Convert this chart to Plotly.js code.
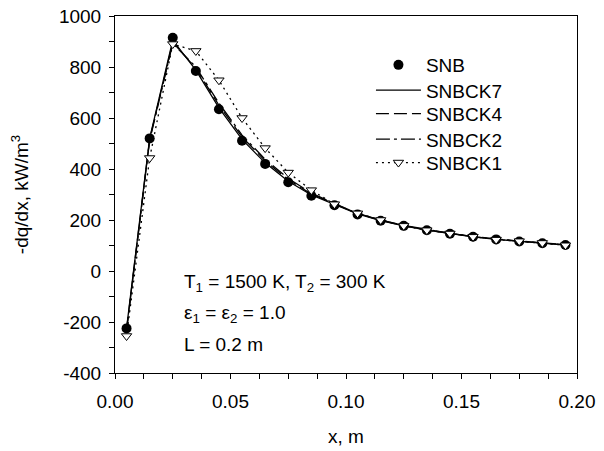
<!DOCTYPE html>
<html>
<head>
<meta charset="utf-8">
<script src="https://cdn.plot.ly/plotly-3.0.1.min.js"></script>
<style>html,body{margin:0;padding:0;background:#fff;}#chart{width:604px;height:451px;}</style>
</head>
<body>
<div id="chart"></div>
<script>
var xPos = [0.005,0.015,0.025,0.035,0.045,0.055,0.065,0.075,0.085,0.095,0.105,0.115,0.125,0.135,0.145,0.155,0.165,0.175,0.185,0.195];
var snb    = [-225,520,915,784,634,511,420,348,295,258,222,197,177,160,146,134,124,116,109,102];
var snbck7 = [-225,520,905,788,640,516,424,352,298,260,224,198,177,160,146,134,124,116,109,102];
var snbck4 = [-230,516,897,795,650,526,432,358,302,262,225,199,178,161,147,135,125,117,110,103];
var snbck2 = [-235,512,892,800,658,533,438,363,306,264,226,200,179,162,148,135,125,117,110,103];
var snbck1 = [-255,443,890,863,748,600,482,386,317,262,226,200,177,160,147,134,123,117,110,101];
var seriesNames = ['SNB','SNBCK7','SNBCK4','SNBCK2','SNBCK1'];
var xTickVals = [0,0.05,0.10,0.15,0.20];
var xTickText = ['0.00','0.05','0.10','0.15','0.20'];
var yTickVals = [-400,-200,0,200,400,600,800,1000];
var yTickText = ['-400','-200','0','200','400','600','800','1000'];

var FONT = 'Liberation Sans, Arial, Helvetica, sans-serif';
var traces = [
  {x:xPos, y:snb, name:seriesNames[0], mode:'markers', type:'scatter', legend:'legend',
   marker:{symbol:'circle', size:10, color:'#000'}},
  {x:xPos, y:snbck7, name:seriesNames[1], mode:'lines', type:'scatter', legend:'legend2',
   line:{color:'#000', width:1.3}},
  {x:xPos, y:snbck4, name:seriesNames[2], mode:'lines', type:'scatter', legend:'legend3',
   line:{color:'#000', width:1.3, dash:'13px,5px'}},
  {x:xPos, y:snbck2, name:seriesNames[3], mode:'lines', type:'scatter', legend:'legend4',
   line:{color:'#000', width:1.3, dash:'14px,4px,3px,4px'}},
  {x:xPos, y:snbck1, name:seriesNames[4], mode:'lines+markers', type:'scatter', legend:'legend5',
   line:{color:'#000', width:1.3, dash:'2px,4px'},
   marker:{symbol:'triangle-down', size:9, color:'#fff', line:{color:'#000', width:1}}}
];

function leg(yy){
  return {x:0.554, xanchor:'left', y:yy, yanchor:'middle', bgcolor:'rgba(0,0,0,0)',
          font:{family:FONT, size:19, color:'#000'}, itemwidth:45};
}

var layout = {
  width:604, height:451,
  margin:{l:115, r:27, t:16, b:78},
  paper_bgcolor:'#fff', plot_bgcolor:'#fff',
  font:{family:FONT, size:19, color:'#000'},
  showlegend:true,
  legend:leg(0.8627), legend2:leg(0.7919), legend3:leg(0.7263), legend4:leg(0.6546), legend5:leg(0.5891),
  xaxis:{range:[0,0.2], tickvals:xTickVals, ticktext:xTickText, ticks:'outside', ticklen:5,
         tickcolor:'#000', showline:true, linecolor:'#000', linewidth:1, mirror:true,
         showgrid:false, zeroline:false, ticklabelstandoff:6,
         minor:{dtick:0.0125, tick0:0, ticks:'outside', ticklen:5, tickcolor:'#000', showgrid:false},
         title:{text:'x, m', font:{family:FONT, size:19}, standoff:18}},
  yaxis:{range:[-400,1000], tickvals:yTickVals, ticktext:yTickText, ticks:'outside', ticklen:5,
         tickcolor:'#000', showline:true, linecolor:'#000', linewidth:1, mirror:true,
         showgrid:false, zeroline:false, ticklabelstandoff:4,
         minor:{dtick:100, tick0:0, ticks:'outside', ticklen:5, tickcolor:'#000', showgrid:false},
         title:{text:'-dq/dx, kW/m<sup>3</sup>', font:{family:FONT, size:19}, standoff:25}},
  annotations:[
    {xref:'paper', yref:'paper', x:0.145, y:0.252, xanchor:'left', yanchor:'middle', showarrow:false,
     text:'T<sub>1</sub> = 1500 K, T<sub>2</sub> = 300 K', font:{family:FONT, size:19}},
    {xref:'paper', yref:'paper', x:0.145, y:0.165, xanchor:'left', yanchor:'middle', showarrow:false,
     text:'ε<sub>1</sub> = ε<sub>2</sub> = 1.0', font:{family:FONT, size:19}},
    {xref:'paper', yref:'paper', x:0.145, y:0.081, xanchor:'left', yanchor:'middle', showarrow:false,
     text:'L = 0.2 m', font:{family:FONT, size:19}}
  ]
};
Plotly.newPlot('chart', traces, layout, {displayModeBar:false, staticPlot:true});
</script>
</body>
</html>
